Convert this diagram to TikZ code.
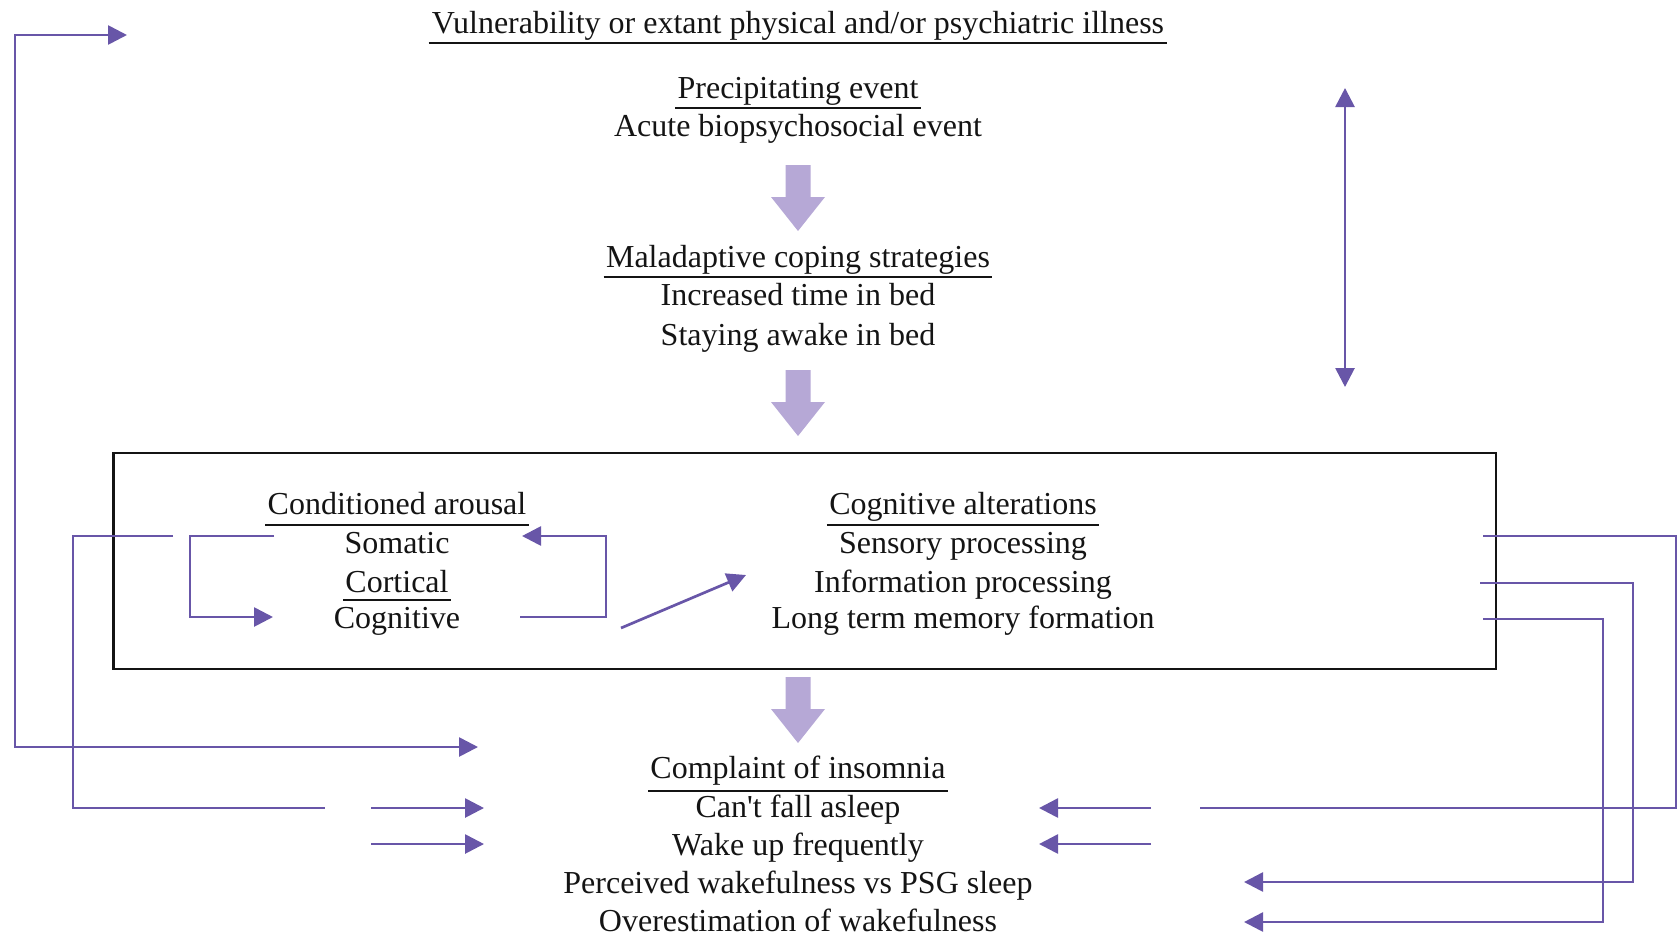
\documentclass[tikz,border=0pt]{standalone}
\usepackage{fontspec}
\setmainfont{Liberation Serif}[Ligatures=TeXOff]
\usetikzlibrary{arrows.meta,calc}
\definecolor{lnpurple}{RGB}{104,86,168}
\definecolor{blockpurple}{RGB}{182,168,214}
\definecolor{txt}{RGB}{20,20,20}
\begin{document}
\begin{tikzpicture}[x=0.5pt,y=-0.5pt,
  lbl/.style={inner sep=0pt, anchor=base, text=txt, font=\fontsize{16pt}{19pt}\selectfont},
  uline/.style={draw=txt, line width=1.1pt},
  conn/.style={draw=lnpurple, line width=1.35pt, line join=miter, >={Triangle[length=9.5pt,width=9.5pt]}},
  frame/.style={draw=txt, line width=1.4pt},
  blockarr/.style={fill=blockpurple}
]
\useasboundingbox (0,0) rectangle (1679,938);

% ---- text nodes ----
\node[lbl] (vul) at (798,33) {Vulnerability or extant physical and/or psychiatric illness};
\node[lbl] (prec) at (798,98) {Precipitating event};
\node[lbl] (acute) at (798,136) {Acute biopsychosocial event};
\node[lbl] (mal) at (798,267) {Maladaptive coping strategies};
\node[lbl] (inc) at (798,305) {Increased time in bed};
\node[lbl] (stay) at (798,345) {Staying awake in bed};

\node[lbl] (cond) at (397,514) {Conditioned arousal};
\node[lbl] (som) at (397,553) {Somatic};
\node[lbl] (cort) at (397,592) {Cortical};
\node[lbl] (cogn) at (397,628) {Cognitive};

\node[lbl] (calt) at (963,514) {Cognitive alterations};
\node[lbl] (sens) at (963,553) {Sensory processing};
\node[lbl] (info) at (963,592) {Information processing};
\node[lbl] (ltm) at (963,628) {Long term memory formation};

\node[lbl] (comp) at (798,778) {Complaint of insomnia};
\node[lbl] (cant) at (798,817) {Can't fall asleep};
\node[lbl] (wake) at (798,855) {Wake up frequently};
\node[lbl] (perc) at (798,893) {Perceived wakefulness vs PSG sleep};
\node[lbl] (over) at (798,931) {Overestimation of wakefulness};

% ---- underlines ----
\draw[uline] ($(vul.base west)+(-3,10)$) -- ($(vul.base east)+(3,10)$);
\draw[uline] ($(prec.base west)+(-2,10)$) -- ($(prec.base east)+(2,10)$);
\draw[uline] ($(mal.base west)+(-2,10)$) -- ($(mal.base east)+(2,10)$);
\draw[uline] ($(cond.base west)+(-2,11)$) -- ($(cond.base east)+(2,11)$);
\draw[uline] ($(cort.base west)+(-2,8)$) -- ($(cort.base east)+(2,8)$);
\draw[uline] ($(calt.base west)+(-2,11)$) -- ($(calt.base east)+(2,11)$);
\draw[uline] ($(comp.base west)+(-2,13)$) -- ($(comp.base east)+(2,13)$);

% ---- frame ----
\draw[frame] (113.5,453) rectangle (1496,669);

% ---- block arrows ----
\coordinate (b1) at (798,165);
\coordinate (b2) at (798,370);
\coordinate (b3) at (798,677);
\foreach \b in {b1,b2,b3}{
  \fill[blockarr] (\b) ++(-12.5,0) -- ++(25,0) -- ++(0,32) -- ++(14.5,0)
     -- ++(-27,34) -- ++(-27,-34) -- ++(14.5,0) -- cycle;
}

% ---- connector coordinates ----
\coordinate (topT) at (127,35);
\coordinate (botT) at (478,747);
\coordinate (dTop) at (1345,88);
\coordinate (dBot) at (1345,387);

\coordinate (lA1) at (274,536);
\coordinate (lA2) at (273,617);
\coordinate (rA1) at (520,617);
\coordinate (rA2) at (522,536);
\coordinate (dg1) at (621,628);
\coordinate (dg2) at (746,575);

\coordinate (eS) at (173,536);
\coordinate (eE) at (325,808);
\coordinate (f1) at (371,808);
\coordinate (f2) at (484,808);
\coordinate (g1) at (371,844);
\coordinate (g2) at (484,844);

\coordinate (hS) at (1483,536);
\coordinate (hE) at (1200,808);
\coordinate (i1) at (1151,808);
\coordinate (i2) at (1039,808);
\coordinate (j1) at (1151,844);
\coordinate (j2) at (1039,844);
\coordinate (kS) at (1480,583);
\coordinate (kE) at (1244,882);
\coordinate (lS) at (1483,619);
\coordinate (lE) at (1244,922);

% ---- connectors ----
\draw[conn,<->] (topT) -- (15,35) -- (15,747) -- (botT);
\draw[conn,<->] (dTop) -- (dBot);

\draw[conn,->] (lA1) -- (190,536) -- (190,617) -- (lA2);
\draw[conn,->] (rA1) -- (606,617) -- (606,536) -- (rA2);
\draw[conn,->] (dg1) -- (dg2);

\draw[conn] (eS) -- (73,536) -- (73,808) -- (eE);
\draw[conn,->] (f1) -- (f2);
\draw[conn,->] (g1) -- (g2);

\draw[conn] (hS) -- (1676,536) -- (1676,808) -- (hE);
\draw[conn,->] (i1) -- (i2);
\draw[conn,->] (j1) -- (j2);
\draw[conn,->] (kS) -- (1633,583) -- (1633,882) -- (kE);
\draw[conn,->] (lS) -- (1603,619) -- (1603,922) -- (lE);
\end{tikzpicture}
\end{document}
